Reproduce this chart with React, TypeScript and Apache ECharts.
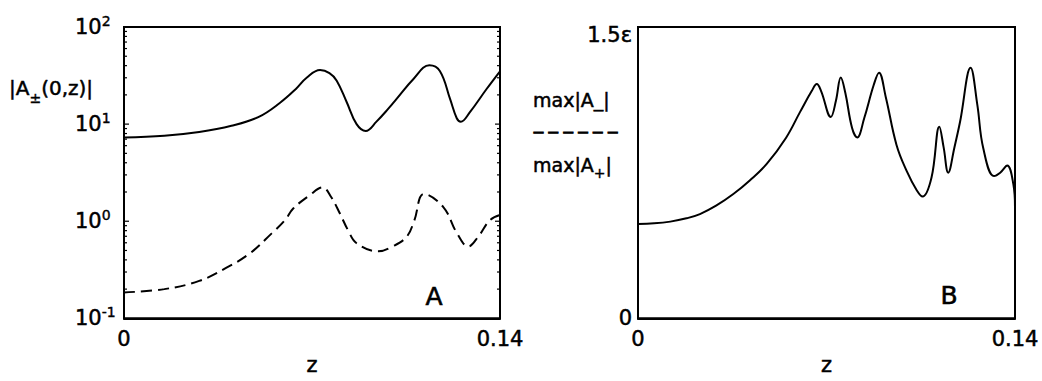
import React, { useEffect, useRef } from "react";
import * as echarts from "echarts";

const FONT = "'DejaVu Sans', 'Liberation Sans', sans-serif";

// Panel A: |A+(0,z)| (solid) and |A-(0,z)| (dashed), log scale
const solidZ = [0, 0.015, 0.028, 0.04, 0.05, 0.058, 0.064, 0.068, 0.073, 0.0765, 0.0792, 0.0829, 0.0866, 0.09, 0.094, 0.0985, 0.1015, 0.1077, 0.1137, 0.1176, 0.1214, 0.1239, 0.1254, 0.1288, 0.135, 0.14];
const solidV = [7.3, 7.6, 8.3, 9.6, 11.8, 16.5, 23, 30, 36, 33.5, 28, 16.9, 10, 8.5, 10.6, 14.5, 18.2, 29, 40.3, 35.3, 18.2, 11.5, 10.6, 13.3, 23, 35];

const dashZ = [0, 0.015, 0.028, 0.038, 0.047, 0.055, 0.06, 0.063, 0.069, 0.074, 0.077, 0.0804, 0.0835, 0.0866, 0.0947, 0.1, 0.1053, 0.108, 0.1117, 0.1189, 0.1239, 0.1282, 0.132, 0.1363, 0.14];
const dashV = [0.185, 0.2, 0.243, 0.33, 0.47, 0.75, 1.03, 1.35, 1.84, 2.23, 1.8, 1.2, 0.8, 0.594, 0.49, 0.55, 0.695, 1.0, 1.91, 1.4, 0.76, 0.55, 0.7, 1.03, 1.16];

// Panel B: max|A-| / max|A+| in units of epsilon
const ratioZ = [0, 0.006, 0.012, 0.018, 0.023, 0.029, 0.0354, 0.0415, 0.0478, 0.055, 0.0602, 0.0645, 0.0664, 0.068, 0.0716, 0.0735, 0.0753, 0.077, 0.0795, 0.0814, 0.084, 0.0875, 0.0895, 0.092, 0.096, 0.0998, 0.1035, 0.1057, 0.109, 0.1119, 0.1135, 0.1152, 0.1175, 0.1196, 0.1235, 0.126, 0.1282, 0.1322, 0.1345, 0.1371, 0.1394, 0.14];
const ratioV = [0.486, 0.489, 0.498, 0.515, 0.537, 0.58, 0.64, 0.71, 0.795, 0.93, 1.063, 1.17, 1.206, 1.17, 1.037, 1.12, 1.24, 1.16, 0.98, 0.931, 1.03, 1.2, 1.265, 1.14, 0.893, 0.758, 0.66, 0.627, 0.725, 0.987, 0.88, 0.75, 0.88, 1.012, 1.29, 1.1, 0.877, 0.733, 0.75, 0.787, 0.69, 0.573];

const xTicks = [0, 0.14];
const logDecades = [-1, 0, 1];

const zip = (xs: number[], ys: number[]) => xs.map((x, i) => [x, ys[i]]);

export default function App() {
  const ref = useRef<HTMLDivElement>(null);
  useEffect(() => {
    if (!ref.current) return;
    const chart = echarts.init(ref.current, null, { renderer: "svg" });

    const tickItems: number[][] = [];
    logDecades.forEach((k) => {
      for (let m = 1; m <= 9; m++) {
        const v = m * Math.pow(10, k);
        if (m === 1 && k === -1) continue;
        tickItems.push([0, v, m === 1 ? 5 : 3]);
      }
    });

    const axisLine = { show: true, lineStyle: { color: "#000", width: 2 } };
    const thick = { textBorderColor: "#000", textBorderWidth: 0.5 };
    const lbl = { color: "#000", fontFamily: FONT, fontSize: 21, ...thick };

    const xAxisBase = (gi: number) => ({
      gridIndex: gi,
      type: "value",
      min: xTicks[0],
      max: xTicks[1],
      interval: xTicks[1],
      axisLine,
      axisTick: { show: false },
      splitLine: { show: false },
      axisLabel: {
        ...lbl,
        margin: 10,
        showMinLabel: true,
        showMaxLabel: true,
        formatter: (v: number) => (v === 0 ? "0" : "0.14"),
      },
      name: "z",
      nameLocation: "middle",
      nameGap: 31,
      nameTextStyle: { ...lbl },
    });

    const gStyle = { fill: "#000", stroke: "#000", lineWidth: 0.5, fontFamily: FONT };
    const gRich = (size: number, lw: number, padding?: number[]) => ({
      fontSize: size,
      fontFamily: FONT,
      fill: "#000",
      stroke: "#000",
      lineWidth: lw,
      ...(padding ? { padding } : {}),
    });

    const option: any = {
      animation: false,
      backgroundColor: "#fff",
      grid: [
        { left: 124, top: 27, width: 376, height: 296, show: true, borderColor: "#000", borderWidth: 2 },
        { left: 638, top: 27, width: 377, height: 296, show: true, borderColor: "#000", borderWidth: 2 },
      ],
      xAxis: [xAxisBase(0), xAxisBase(1)],
      yAxis: [
        {
          gridIndex: 0,
          type: "log",
          logBase: 10,
          min: 0.1,
          max: 100,
          axisLine,
          axisTick: { show: false },
          splitLine: { show: false },
          axisLabel: {
            ...lbl,
            align: "left",
            margin: 49,
            formatter: (v: number) => {
              const e = Math.round(Math.log10(v));
              return `{b|10}{s|${e < 0 ? "-" + Math.abs(e) : e}}`;
            },
            rich: {
              b: { fontSize: 21, fontFamily: FONT, color: "#000", ...thick },
              s: { fontSize: 14, fontFamily: FONT, color: "#000", padding: [0, 0, 13, 0], ...thick, textBorderWidth: 0.4 },
            },
          },
        },
        {
          gridIndex: 1,
          type: "value",
          min: 0,
          max: 1.5,
          interval: 1.5,
          axisLine,
          axisTick: { show: true, inside: true, length: 5, lineStyle: { color: "#000", width: 1.5 } },
          splitLine: { show: false },
          axisLabel: {
            ...lbl,
            margin: 6,
            formatter: (v: number) => (v === 0 ? "0" : "{e|1.5ε}"),
            rich: { e: { fontSize: 21, fontFamily: FONT, color: "#000", padding: [16, 0, 0, 0], ...thick } },
          },
        },
      ],
      series: [
        {
          type: "line",
          xAxisIndex: 0,
          yAxisIndex: 0,
          data: zip(solidZ, solidV),
          symbol: "none",
          smooth: 0.4,
          lineStyle: { color: "#000", width: 2 },
        },
        {
          type: "line",
          xAxisIndex: 0,
          yAxisIndex: 0,
          data: zip(dashZ, dashV),
          symbol: "none",
          smooth: 0.4,
          lineStyle: { color: "#000", width: 2, type: [11, 6] },
        },
        {
          type: "line",
          xAxisIndex: 1,
          yAxisIndex: 1,
          data: zip(ratioZ, ratioV),
          symbol: "none",
          smooth: 0.4,
          lineStyle: { color: "#000", width: 2 },
        },
        {
          type: "custom",
          xAxisIndex: 0,
          yAxisIndex: 0,
          silent: true,
          clip: false,
          data: tickItems,
          renderItem: (params: any, api: any) => {
            const v = api.value(1);
            const len = api.value(2);
            const y = api.coord([0, v])[1];
            const cs = params.coordSys;
            const st = { stroke: "#000", lineWidth: 1.2 };
            return {
              type: "group",
              children: [
                { type: "line", shape: { x1: cs.x, y1: y, x2: cs.x + len, y2: y }, style: st },
                { type: "line", shape: { x1: cs.x + cs.width - len, y1: y, x2: cs.x + cs.width, y2: y }, style: st },
              ],
            };
          },
        },
      ],
      graphic: [
        {
          type: "text",
          x: 9,
          y: 88,
          style: {
            text: "{t||A}{u|±}{t|(0,z)|}",
            verticalAlign: "middle",
            fill: "#000",
            rich: {
              t: gRich(20, 0.5),
              u: gRich(14, 0.4, [20, 0, 0, 0]),
            },
          },
        },
        {
          type: "text",
          x: 533,
          y: 100,
          style: { text: "max|A_|", fontSize: 19, ...gStyle, verticalAlign: "middle" },
        },
        {
          type: "text",
          x: 533,
          y: 132,
          style: {
            text: "— — — — — —",
            fontSize: 11,
            fontWeight: "bold",
            fontFamily: FONT,
            fill: "#000",
            stroke: "#000",
            lineWidth: 0.8,
            verticalAlign: "middle",
          },
        },
        {
          type: "text",
          x: 533,
          y: 165,
          style: {
            text: "{t|max|A}{u|+}{t||}",
            verticalAlign: "middle",
            fill: "#000",
            rich: {
              t: gRich(19, 0.5),
              u: gRich(14, 0.4, [16, 0, 0, 0]),
            },
          },
        },
        {
          type: "text",
          x: 434,
          y: 296,
          style: { text: "A", fontSize: 25, ...gStyle, lineWidth: 0.6, align: "center", verticalAlign: "middle" },
        },
        {
          type: "text",
          x: 949,
          y: 295,
          style: { text: "B", fontSize: 25, ...gStyle, lineWidth: 0.6, align: "center", verticalAlign: "middle" },
        },
      ],
    };

    chart.setOption(option);
    return () => chart.dispose();
  }, []);

  return <div ref={ref} style={{ position: "absolute", left: 0, top: 0, width: 1042, height: 381 }} />;
}
